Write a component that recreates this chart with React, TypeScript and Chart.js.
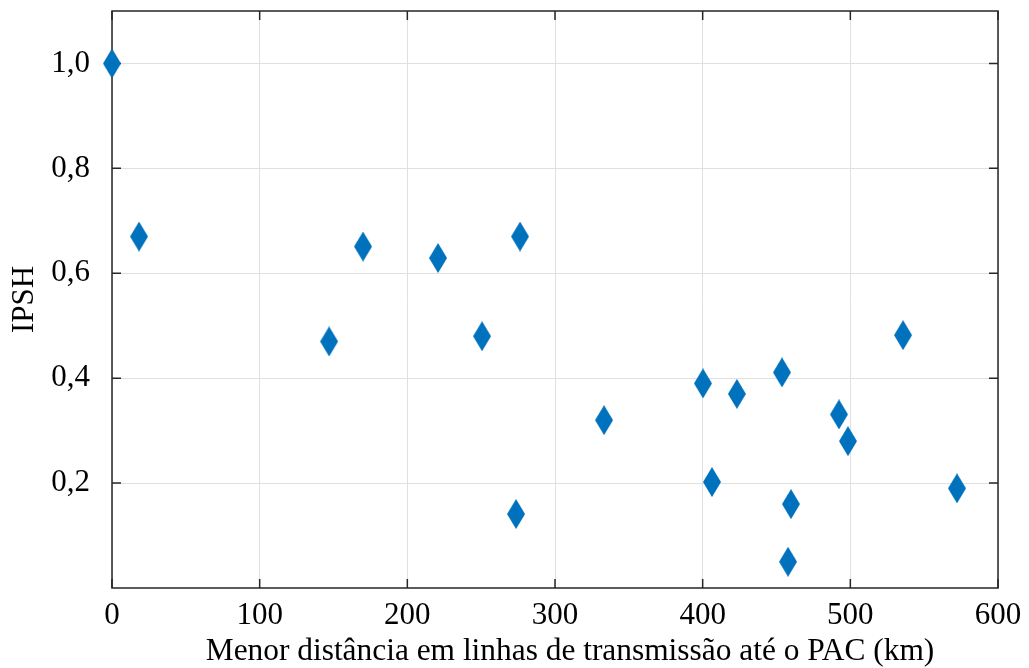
import React, { useEffect, useRef } from "react";
import { Chart, registerables } from "chart.js";

Chart.register(...registerables);

const distanceKm = [0, 18.3, 147, 170, 220.8, 250.6, 273.6, 276.3, 333.2, 400.2, 406.3, 423.2, 453.7, 457.8, 459.8, 492.3, 498.4, 535.7, 572.2];
const ipsh = [1.0, 0.67, 0.47, 0.651, 0.629, 0.48, 0.141, 0.67, 0.32, 0.39, 0.202, 0.37, 0.411, 0.05, 0.16, 0.331, 0.28, 0.482, 0.19];
const xTicks = [0, 100, 200, 300, 400, 500, 600];
const yTicks = [0.2, 0.4, 0.6, 0.8, 1.0];
const xTitle = "Menor distância em linhas de transmissão até o PAC (km)";
const yTitle = "IPSH";

const FONT = "'Liberation Serif', 'Times New Roman', serif";
const FS = 31;
const BLUE = "#0072BD";
const AXIS = "#262626";
const GRID = "#e0e0e0";

function makeDiamond(): HTMLCanvasElement {
  const w = 18, h = 30;
  const c = document.createElement("canvas");
  c.width = w;
  c.height = h;
  const ctx = c.getContext("2d")!;
  ctx.fillStyle = BLUE;
  ctx.beginPath();
  ctx.moveTo(w / 2, 0);
  ctx.lineTo(w, h / 2);
  ctx.lineTo(w / 2, h);
  ctx.lineTo(0, h / 2);
  ctx.closePath();
  ctx.fill();
  return c;
}

const framePlugin = {
  id: "frame",
  beforeDatasetsDraw(chart: any) {
    const { ctx, chartArea: a, scales } = chart;
    const tl = 9;
    ctx.save();
    ctx.strokeStyle = AXIS;
    ctx.lineWidth = 1.5;
    ctx.strokeRect(a.left, a.top, a.right - a.left, a.bottom - a.top);
    ctx.beginPath();
    for (const v of xTicks) {
      const x = scales.x.getPixelForValue(v);
      ctx.moveTo(x, a.bottom);
      ctx.lineTo(x, a.bottom - tl);
      ctx.moveTo(x, a.top);
      ctx.lineTo(x, a.top + tl);
    }
    for (const v of yTicks) {
      const y = scales.y.getPixelForValue(v);
      ctx.moveTo(a.left, y);
      ctx.lineTo(a.left + tl, y);
      ctx.moveTo(a.right, y);
      ctx.lineTo(a.right - tl, y);
    }
    ctx.stroke();
    ctx.restore();
  },
  afterDraw(chart: any) {
    const { ctx } = chart;
    ctx.save();
    ctx.fillStyle = "#000";
    ctx.font = `31.4px ${FONT}`;
    ctx.textAlign = "center";
    ctx.textBaseline = "alphabetic";
    ctx.fillText(xTitle, 570, 660);
    ctx.restore();
  },
};

export default function App() {
  const ref = useRef<HTMLCanvasElement | null>(null);
  useEffect(() => {
    document.body.style.margin = "0";
    const diamond = makeDiamond();
    const chart = new Chart(ref.current!, {
      type: "scatter",
      data: {
        datasets: [
          {
            data: distanceKm.map((x, i) => ({ x, y: ipsh[i] })),
            pointStyle: diamond as any,
            pointRadius: 10,
            clip: false as any,
          },
        ],
      },
      options: {
        animation: false,
        responsive: false,
        layout: { padding: { left: 0, right: 31, top: 10.5, bottom: 0 } },
        plugins: { legend: { display: false }, tooltip: { enabled: false } },
        scales: {
          x: {
            type: "linear",
            min: 0,
            max: 600,
            afterBuildTicks: (s: any) => {
              s.ticks = xTicks.map((v) => ({ value: v }));
            },
            afterFit: (s: any) => {
              s.height = 80;
              s.paddingLeft = 0;
              s.paddingRight = 0;
            },
            grid: { color: GRID, lineWidth: 1, drawTicks: false },
            border: { display: false },
            ticks: {
              padding: 9,
              color: "#000",
              font: { family: FONT, size: FS },
              callback: (v: any) => String(v),
            },
            title: { display: false },
          },
          y: {
            type: "linear",
            min: 0,
            max: 1.1,
            afterBuildTicks: (s: any) => {
              s.ticks = yTicks.map((v) => ({ value: v }));
            },
            afterFit: (s: any) => {
              s.width = 112;
              s.paddingTop = 0;
              s.paddingBottom = 0;
            },
            grid: { color: GRID, lineWidth: 1, drawTicks: false },
            border: { display: false },
            ticks: {
              padding: 22,
              color: "#000",
              font: { family: FONT, size: FS },
              callback: (v: any) => Number(v).toFixed(1).replace(".", ","),
            },
            title: {
              display: true,
              text: yTitle,
              color: "#000",
              font: { family: FONT, size: FS },
              padding: { top: 6, bottom: 0 },
            },
          },
        },
      },
      plugins: [framePlugin],
    });
    return () => chart.destroy();
  }, []);
  return (
    <div style={{ position: "absolute", left: 0, top: 0, width: 1029, height: 668, background: "#fff" }}>
      <canvas ref={ref} width={1029} height={668} style={{ width: 1029, height: 668, display: "block" }} />
    </div>
  );
}
